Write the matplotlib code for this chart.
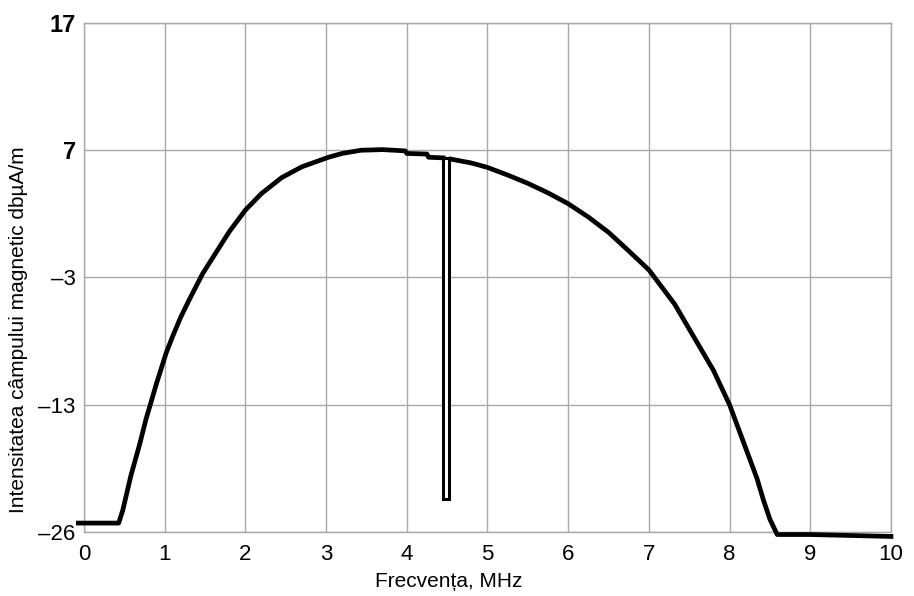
import numpy as np
import matplotlib.pyplot as plt

plt.rcParams['font.family'] = ['Liberation Sans', 'DejaVu Sans']

# frequency (MHz) and field strength, in plot units (bottom gridline is labelled -26)
freq = [-0.07, 0.2, 0.43, 0.48, 0.58, 0.69, 0.77, 0.9, 1.02, 1.1, 1.2, 1.3, 1.47, 1.65,
        1.8, 2.0, 2.2, 2.45, 2.7, 3.03, 3.2, 3.43, 3.7, 3.98, 4.0, 4.25, 4.27, 4.45]
level = [-22.3, -22.3, -22.3, -21.3, -18.6, -16.1, -14.1, -11.3, -8.9, -7.6, -6.1, -4.8,
         -2.7, -0.9, 0.6, 2.3, 3.6, 4.85, 5.7, 6.45, 6.75, 7.0, 7.05, 6.95, 6.75, 6.7,
         6.45, 6.4]

freq2 = [4.55, 4.8, 5.0, 5.25, 5.5, 5.75, 6.0, 6.25, 6.5, 6.74, 7.0, 7.32, 7.56, 7.8,
         8.0, 8.17, 8.34, 8.42, 8.5, 8.59, 9.0, 10.0]
level2 = [6.3, 6.0, 5.65, 5.05, 4.4, 3.65, 2.8, 1.75, 0.55, -0.85, -2.4, -5.1, -7.7, -10.3,
          -13.0, -15.9, -18.8, -20.5, -22.0, -23.2, -23.2, -23.35]

spike_x = 4.49
spike_top = 6.4
spike_bottom = -20.4

yticks = [-23, -13, -3, 7, 17]
ytick_labels = ['\u201326', '\u201313', '\u20133', '7', '17']
xticks = list(range(11))

fig = plt.figure(figsize=(9.14, 5.96), dpi=100)
ax = fig.add_axes([0.0919, 0.1074, 0.8829, 0.854])

ax.plot(freq, level, color='black', lw=3.4, solid_joinstyle='round', clip_on=False, zorder=3)
ax.plot(freq2, level2, color='black', lw=3.4, solid_joinstyle='round', clip_on=False, zorder=3)
ax.bar(spike_x, spike_bottom - spike_top, bottom=spike_top, width=0.075,
       facecolor='white', edgecolor='black', lw=2.2, zorder=4)

ax.set_xlim(0, 10)
ax.set_ylim(-23, 17)
ax.set_xticks(xticks)
ax.set_xticklabels([str(x) for x in xticks], fontsize=16)
ax.set_yticks(yticks)
ax.set_yticklabels(ytick_labels, fontsize=16)
for lab in ax.get_yticklabels():
    if lab.get_text() in ('7', '17'):
        lab.set_fontweight('bold')
        lab.set_fontsize(17)
ax.tick_params(axis='x', length=0, pad=9)
ax.tick_params(axis='y', length=0, pad=6)
ax.grid(True, color='#a8a8a8', lw=1)
for s in ax.spines.values():
    s.set_color('#a8a8a8')
    s.set_linewidth(1)

ax.set_xlabel('Frecvența, MHz', fontsize=15)
ax.set_ylabel('Intensitatea câmpului magnetic dbµA/m', fontsize=15)
ax.xaxis.set_label_coords(0.452, -0.079)
ax.yaxis.set_label_coords(-0.069, 0.397)

fig.savefig('out.png', dpi=100)
